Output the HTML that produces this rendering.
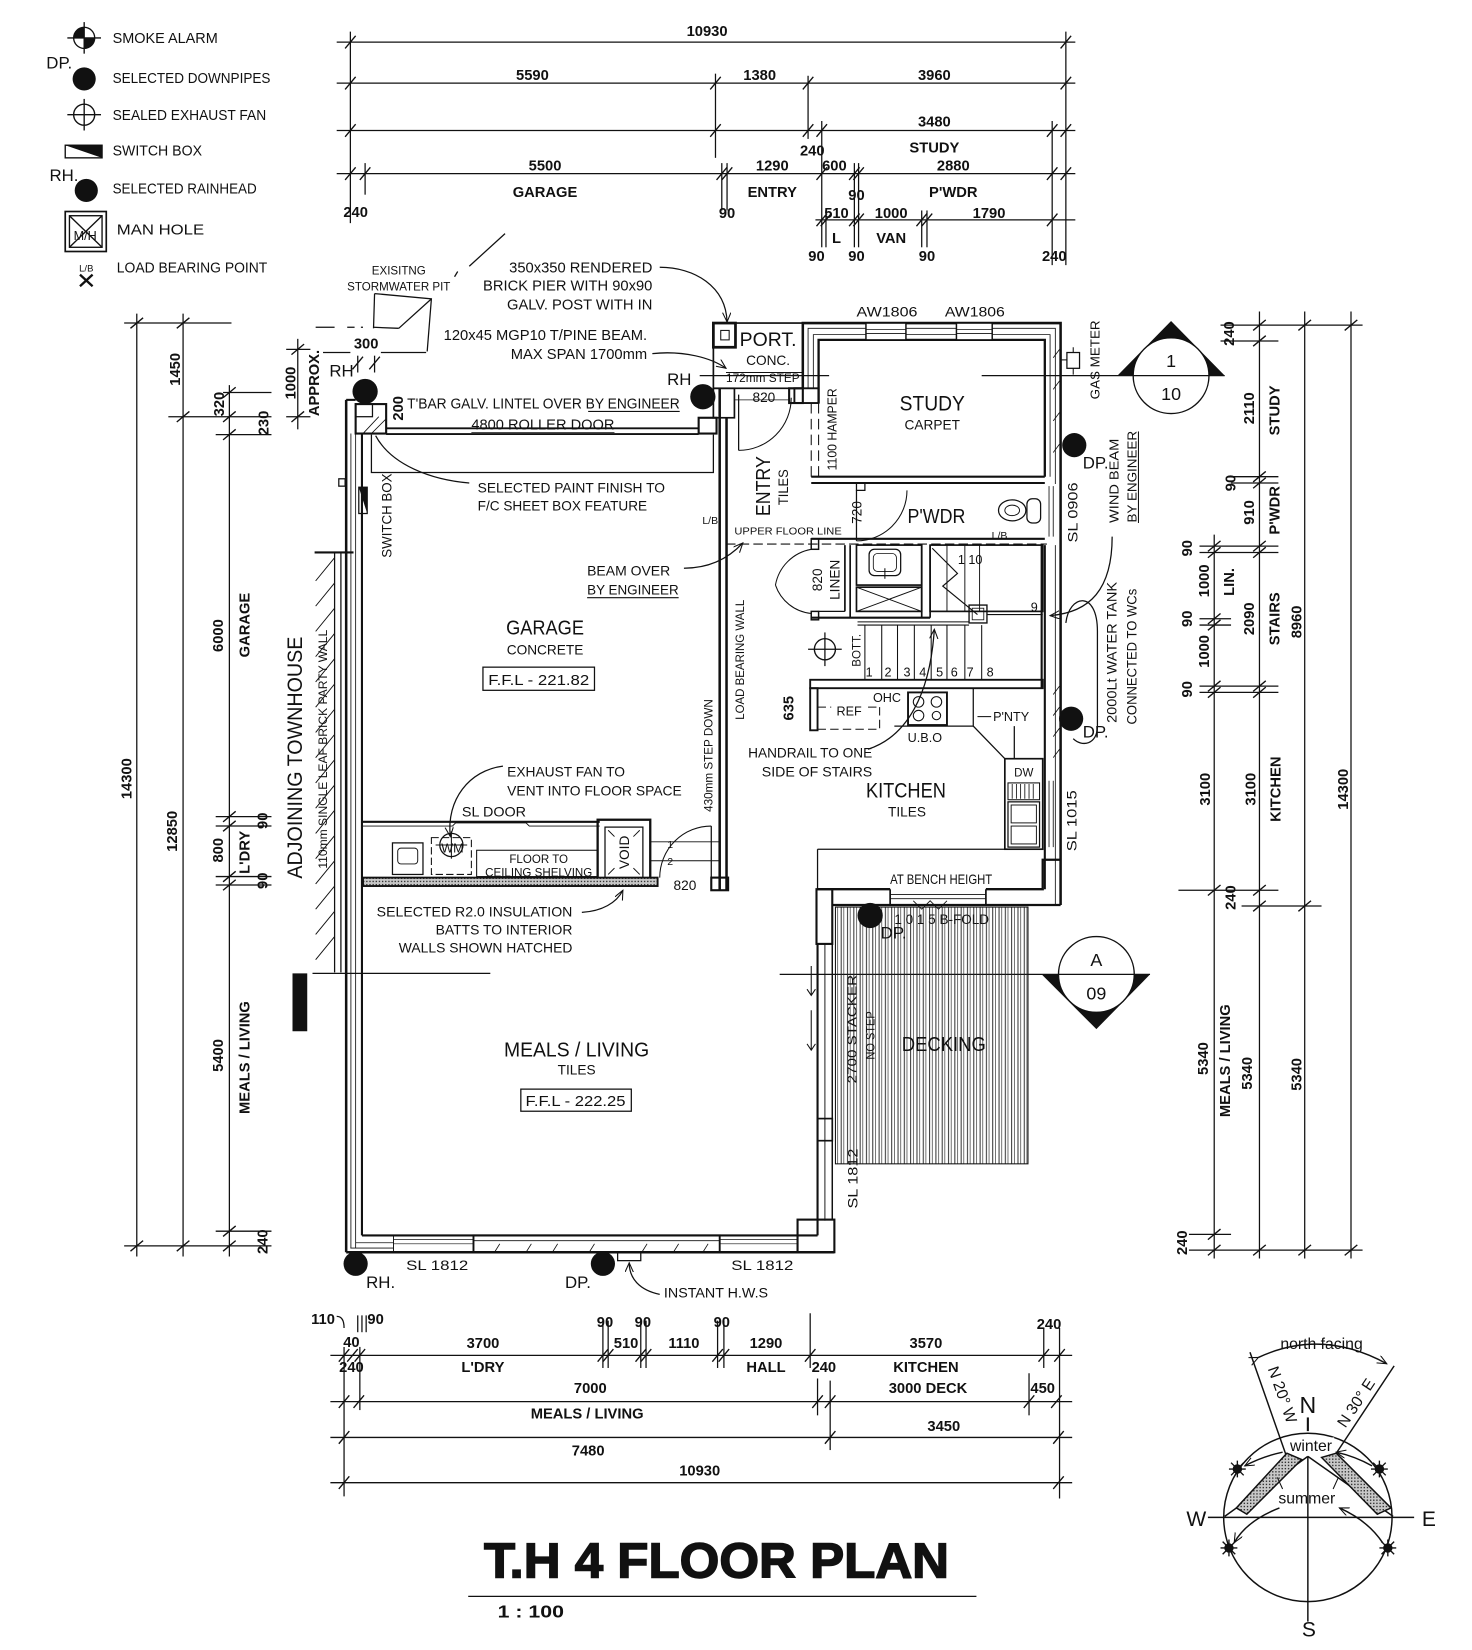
<!DOCTYPE html>
<html><head><meta charset="utf-8"><title>T.H 4 Floor Plan</title>
<style>
html,body{margin:0;padding:0;background:#fff;width:1472px;height:1650px;overflow:hidden}
svg{display:block}
text{font-family:"Liberation Sans",Arial,sans-serif;fill:#111}
.b{font-weight:bold;font-size:14px}
.n{font-size:13px}
.s{font-size:11px}
</style></head><body>
<svg xmlns="http://www.w3.org/2000/svg" width="1472" height="1650" viewBox="0 0 1399 1568" preserveAspectRatio="none">
<defs>
<pattern id="deck" patternUnits="userSpaceOnUse" width="6" height="20">
<line x1="1.5" y1="0" x2="1.5" y2="20" stroke="#222" stroke-width="0.9"/>
<line x1="4" y1="0" x2="4" y2="20" stroke="#222" stroke-width="0.6"/>
</pattern>
<pattern id="stip" patternUnits="userSpaceOnUse" width="3" height="3">
<rect width="3" height="3" fill="#c8c8c8"/><rect width="1.3" height="1.3" fill="#333"/>
</pattern>
<marker id="ar" markerUnits="userSpaceOnUse" markerWidth="12" markerHeight="10" refX="9" refY="4" orient="auto">
<path d="M0,0 L9,4 L0,8" fill="none" stroke="#111" stroke-width="1"/>
</marker>
</defs>
<rect width="1399" height="1568" fill="#fff"/>

<!-- ===== LEGEND ===== -->
<g stroke="#111" stroke-width="1.3" fill="none">
<circle cx="80" cy="36" r="10"/>
<line x1="64" y1="36" x2="96" y2="36"/><line x1="80" y1="21" x2="80" y2="51"/>
<circle cx="80" cy="109" r="10"/>
<line x1="64" y1="109" x2="96" y2="109"/><line x1="80" y1="94" x2="80" y2="124"/>
<rect x="62" y="138" width="35" height="12"/>
<rect x="62" y="201" width="39" height="38" stroke-width="1.6"/>
<rect x="66" y="205" width="31" height="30"/>
<line x1="66" y1="205" x2="97" y2="235"/><line x1="97" y1="205" x2="66" y2="235"/>
<line x1="76" y1="261" x2="88" y2="272" stroke-width="2.2"/><line x1="88" y1="261" x2="76" y2="272" stroke-width="2.2"/>
</g>
<path d="M80,36 L80,26 A10,10 0 0 0 70,36 Z M80,36 L80,46 A10,10 0 0 0 90,36 Z" fill="#111"/>
<path d="M62,138 L97,138 L97,150 Z" fill="#111"/>
<circle cx="80" cy="75" r="11" fill="#111"/>
<circle cx="82" cy="181" r="11" fill="#111"/>
<text x="81" y="228" font-size="12" text-anchor="middle">M/H</text>
<text x="82" y="258" font-size="9" text-anchor="middle">L/B</text>
<text x="44" y="65" font-size="16">DP.</text>
<text x="47" y="172" font-size="16">RH.</text>
<g font-size="14">
<text x="107" y="41" textLength="100" lengthAdjust="spacingAndGlyphs">SMOKE ALARM</text>
<text x="107" y="79" textLength="150" lengthAdjust="spacingAndGlyphs">SELECTED DOWNPIPES</text>
<text x="107" y="114" textLength="146" lengthAdjust="spacingAndGlyphs">SEALED EXHAUST FAN</text>
<text x="107" y="148" textLength="85" lengthAdjust="spacingAndGlyphs">SWITCH BOX</text>
<text x="107" y="184" textLength="137" lengthAdjust="spacingAndGlyphs">SELECTED RAINHEAD</text>
<text x="111" y="223" textLength="83" lengthAdjust="spacingAndGlyphs">MAN HOLE</text>
<text x="111" y="259" textLength="143" lengthAdjust="spacingAndGlyphs">LOAD BEARING POINT</text>
</g>

<!-- ===== TOP DIMENSIONS ===== -->
<g stroke="#111" stroke-width="1.2" fill="none">
<line x1="320" y1="40" x2="1022" y2="40"/>
<line x1="320" y1="79" x2="1022" y2="79"/>
<line x1="320" y1="124" x2="1022" y2="124"/>
<line x1="320" y1="165" x2="1022" y2="165"/>
<line x1="775" y1="209" x2="1022" y2="209"/>
<line x1="333" y1="30" x2="333" y2="212"/>
<line x1="347" y1="155" x2="347" y2="185"/>
<line x1="680" y1="70" x2="680" y2="150"/>
<line x1="686" y1="155" x2="686" y2="200"/><line x1="691" y1="155" x2="691" y2="200"/>
<line x1="768" y1="72" x2="768" y2="132"/>
<line x1="781" y1="115" x2="781" y2="235"/><line x1="785" y1="200" x2="785" y2="235"/>
<line x1="812" y1="155" x2="812" y2="235"/><line x1="816" y1="155" x2="816" y2="235"/>
<line x1="876" y1="200" x2="876" y2="235"/><line x1="881" y1="200" x2="881" y2="235"/>
<line x1="1000" y1="115" x2="1000" y2="252"/>
<line x1="1013" y1="30" x2="1013" y2="252"/>
<path stroke-width="1.3" d="M328,46l10,-12 M1008,46l10,-12
M328,85l10,-12 M675,85l10,-12 M763,85l10,-12 M1008,85l10,-12
M328,130l10,-12 M675,130l10,-12 M763,130l10,-12 M776,130l10,-12 M995,130l10,-12 M1008,130l10,-12
M328,171l10,-12 M342,171l10,-12 M681,171l10,-12 M686,171l10,-12 M776,171l10,-12 M807,171l10,-12 M811,171l10,-12 M995,171l10,-12 M1008,171l10,-12
M776,215l10,-12 M780,215l10,-12 M807,215l10,-12 M811,215l10,-12 M871,215l10,-12 M876,215l10,-12 M995,215l10,-12"/>
</g>
<g class="b" text-anchor="middle">
<text x="672" y="34">10930</text>
<text x="506" y="76">5590</text><text x="722" y="76">1380</text><text x="888" y="76">3960</text>
<text x="888" y="120">3480</text><text x="772" y="148">240</text><text x="888" y="145">STUDY</text>
<text x="518" y="162">5500</text><text x="518" y="187">GARAGE</text><text x="338" y="206">240</text><text x="691" y="207">90</text>
<text x="734" y="162">1290</text><text x="734" y="187">ENTRY</text><text x="793" y="162">600</text><text x="814" y="190">90</text>
<text x="906" y="162">2880</text><text x="906" y="187">P'WDR</text>
<text x="795" y="207">510</text><text x="847" y="207">1000</text><text x="940" y="207">1790</text>
<text x="795" y="231">L</text><text x="847" y="231">VAN</text>
<text x="776" y="248">90</text><text x="814" y="248">90</text><text x="881" y="248">90</text><text x="1002" y="248">240</text>
</g>

<!-- ===== LEFT DIMENSIONS ===== -->
<g stroke="#111" stroke-width="1.2" fill="none">
<line x1="130" y1="298" x2="130" y2="1194"/>
<line x1="174" y1="298" x2="174" y2="1194"/>
<line x1="218" y1="366" x2="218" y2="1194"/>
<line x1="118" y1="307" x2="220" y2="307"/>
<line x1="160" y1="396" x2="258" y2="396"/>
<line x1="212" y1="373" x2="258" y2="373"/>
<line x1="205" y1="413" x2="258" y2="413"/>
<line x1="205" y1="776" x2="258" y2="776"/><line x1="205" y1="785" x2="258" y2="785"/>
<line x1="205" y1="833" x2="258" y2="833"/><line x1="205" y1="841" x2="258" y2="841"/>
<line x1="205" y1="1170" x2="258" y2="1170"/>
<line x1="118" y1="1184" x2="258" y2="1184"/>
<path stroke-width="1.3" d="M124,312l12,-10 M124,1189l12,-10 M168,312l12,-10 M168,401l12,-10 M168,1189l12,-10
M212,378l12,-10 M212,401l12,-10 M212,418l12,-10 M212,781l12,-10 M212,790l12,-10 M212,838l12,-10 M212,846l12,-10 M212,1175l12,-10 M212,1189l12,-10"/>
<line x1="283" y1="322" x2="283" y2="408"/>
<line x1="272" y1="332" x2="295" y2="332"/><line x1="272" y1="396" x2="295" y2="396"/>
<path stroke-width="1.3" d="M277,337l12,-10 M277,401l12,-10"/>
<line x1="307" y1="335" x2="333" y2="335"/><line x1="362" y1="335" x2="405" y2="335"/>
<line x1="340" y1="338" x2="340" y2="354"/><line x1="356" y1="338" x2="356" y2="354"/>
<path stroke-width="1.3" d="M335,351l10,-12 M351,351l10,-12"/>
</g>
<g class="b" text-anchor="middle">
<text transform="translate(125,740) rotate(-90)">14300</text>
<text transform="translate(171,351) rotate(-90)">1450</text>
<text transform="translate(168,790) rotate(-90)">12850</text>
<text transform="translate(213,384) rotate(-90)">320</text>
<text transform="translate(255,402) rotate(-90)">230</text>
<text transform="translate(212,604) rotate(-90)">6000</text>
<text transform="translate(237,594) rotate(-90)">GARAGE</text>
<text transform="translate(212,808) rotate(-90)">800</text>
<text transform="translate(237,810) rotate(-90)">L'DRY</text>
<text transform="translate(254,780) rotate(-90)">90</text>
<text transform="translate(254,837) rotate(-90)">90</text>
<text transform="translate(212,1003) rotate(-90)">5400</text>
<text transform="translate(237,1005) rotate(-90)">MEALS / LIVING</text>
<text transform="translate(254,1180) rotate(-90)">240</text>
<text transform="translate(281,364) rotate(-90)">1000</text>
<text transform="translate(303,364) rotate(-90)">APPROX.</text>
<text x="348" y="331">300</text>
</g>

<!-- ===== RIGHT DIMENSIONS ===== -->
<g stroke="#111" stroke-width="1.2" fill="none">
<line x1="1154" y1="508" x2="1154" y2="1196"/>
<line x1="1197" y1="296" x2="1197" y2="1196"/>
<line x1="1240" y1="296" x2="1240" y2="1196"/>
<line x1="1284" y1="296" x2="1284" y2="1196"/>
<line x1="1160" y1="309" x2="1295" y2="309"/>
<line x1="1160" y1="324" x2="1215" y2="324"/>
<line x1="1170" y1="453" x2="1215" y2="453"/><line x1="1170" y1="459" x2="1215" y2="459"/>
<line x1="1140" y1="519" x2="1215" y2="519"/><line x1="1140" y1="525" x2="1215" y2="525"/>
<line x1="1140" y1="588" x2="1170" y2="588"/><line x1="1140" y1="594" x2="1170" y2="594"/>
<line x1="1140" y1="652" x2="1215" y2="652"/><line x1="1140" y1="658" x2="1215" y2="658"/>
<line x1="1120" y1="846" x2="1215" y2="846"/>
<line x1="1180" y1="861" x2="1256" y2="861"/>
<line x1="1130" y1="1173" x2="1170" y2="1173"/>
<line x1="1130" y1="1188" x2="1295" y2="1188"/>
<path stroke-width="1.3" d="M1148,524l12,-10 M1148,530l12,-10 M1148,593l12,-10 M1148,599l12,-10 M1148,657l12,-10 M1148,663l12,-10 M1148,851l12,-10 M1148,1178l12,-10 M1148,1193l12,-10
M1191,314l12,-10 M1191,329l12,-10 M1191,458l12,-10 M1191,464l12,-10 M1191,524l12,-10 M1191,530l12,-10 M1191,657l12,-10 M1191,663l12,-10 M1191,851l12,-10 M1191,866l12,-10 M1191,1193l12,-10
M1234,314l12,-10 M1234,866l12,-10 M1234,1193l12,-10
M1278,314l12,-10 M1278,1193l12,-10"/>
</g>
<g class="b" text-anchor="middle">
<text transform="translate(1173,317) rotate(-90)">240</text>
<text transform="translate(1192,388) rotate(-90)">2110</text>
<text transform="translate(1216,390) rotate(-90)">STUDY</text>
<text transform="translate(1174,459) rotate(-90)">90</text>
<text transform="translate(1192,487) rotate(-90)">910</text>
<text transform="translate(1216,485) rotate(-90)">P'WDR</text>
<text transform="translate(1133,521) rotate(-90)">90</text>
<text transform="translate(1149,552) rotate(-90)">1000</text>
<text transform="translate(1173,553) rotate(-90)">LIN.</text>
<text transform="translate(1133,588) rotate(-90)">90</text>
<text transform="translate(1149,619) rotate(-90)">1000</text>
<text transform="translate(1192,588) rotate(-90)">2090</text>
<text transform="translate(1216,588) rotate(-90)">STAIRS</text>
<text transform="translate(1237,591) rotate(-90)">8960</text>
<text transform="translate(1133,655) rotate(-90)">90</text>
<text transform="translate(1150,750) rotate(-90)">3100</text>
<text transform="translate(1193,750) rotate(-90)">3100</text>
<text transform="translate(1217,750) rotate(-90)">KITCHEN</text>
<text transform="translate(1281,750) rotate(-90)">14300</text>
<text transform="translate(1174,853) rotate(-90)">240</text>
<text transform="translate(1148,1006) rotate(-90)">5340</text>
<text transform="translate(1169,1008) rotate(-90)">MEALS / LIVING</text>
<text transform="translate(1190,1020) rotate(-90)">5340</text>
<text transform="translate(1237,1021) rotate(-90)">5340</text>
<text transform="translate(1128,1181) rotate(-90)">240</text>
</g>

<!-- ===== BOTTOM DIMENSIONS ===== -->
<g stroke="#111" stroke-width="1.2" fill="none">
<line x1="314" y1="1288" x2="1019" y2="1288"/>
<line x1="314" y1="1332" x2="1019" y2="1332"/>
<line x1="314" y1="1366" x2="1019" y2="1366"/>
<line x1="314" y1="1409" x2="1019" y2="1409"/>
<line x1="327" y1="1280" x2="327" y2="1422"/>
<line x1="342" y1="1280" x2="342" y2="1340"/>
<line x1="340" y1="1250" x2="340" y2="1266"/><line x1="344" y1="1250" x2="344" y2="1266"/><line x1="348" y1="1250" x2="348" y2="1266"/>
<path d="M320,1251 C325,1251 327,1255 327,1262"/>
<line x1="573" y1="1255" x2="573" y2="1300"/><line x1="578" y1="1255" x2="578" y2="1300"/>
<line x1="609" y1="1255" x2="609" y2="1300"/><line x1="614" y1="1255" x2="614" y2="1300"/>
<line x1="682" y1="1255" x2="682" y2="1300"/><line x1="688" y1="1255" x2="688" y2="1300"/>
<line x1="770" y1="1248" x2="770" y2="1300"/>
<line x1="777" y1="1310" x2="777" y2="1345"/>
<line x1="789" y1="1312" x2="789" y2="1378"/>
<line x1="978" y1="1305" x2="978" y2="1345"/>
<line x1="992" y1="1262" x2="992" y2="1300"/>
<line x1="1007" y1="1262" x2="1007" y2="1424"/>
<path stroke-width="1.3" d="M322,1294l10,-12 M330,1294l10,-12 M337,1294l10,-12 M568,1294l10,-12 M573,1294l10,-12 M604,1294l10,-12 M609,1294l10,-12 M677,1294l10,-12 M683,1294l10,-12 M765,1294l10,-12 M987,1294l10,-12 M1002,1294l10,-12
M322,1338l10,-12 M336,1338l10,-12 M772,1338l10,-12 M784,1338l10,-12 M973,1338l10,-12 M999,1338l10,-12
M322,1372l10,-12 M784,1372l10,-12 M1001,1372l10,-12
M322,1415l10,-12 M1001,1415l10,-12"/>
</g>
<g class="b" text-anchor="middle">
<text x="307" y="1258">110</text><text x="357" y="1258">90</text><text x="334" y="1280">40</text>
<text x="459" y="1281">3700</text><text x="575" y="1261">90</text><text x="611" y="1261">90</text>
<text x="595" y="1281">510</text><text x="650" y="1281">1110</text><text x="686" y="1261">90</text>
<text x="728" y="1281">1290</text><text x="880" y="1281">3570</text><text x="997" y="1263">240</text>
<text x="334" y="1304">240</text><text x="459" y="1304">L'DRY</text><text x="728" y="1304">HALL</text>
<text x="783" y="1304">240</text><text x="880" y="1304">KITCHEN</text>
<text x="561" y="1324">7000</text><text x="882" y="1324">3000 DECK</text><text x="991" y="1324">450</text>
<text x="558" y="1348">MEALS / LIVING</text>
<text x="897" y="1360">3450</text><text x="559" y="1383">7480</text>
<text x="665" y="1402">10930</text>
</g>

<!-- ===== STORMWATER / TOP ANNOTATIONS ===== -->
<g stroke="#111" stroke-width="1.2" fill="none">
<path d="M356,279 L410,284 L406,334"/>
<path d="M356,279 L355,312"/>
<path d="M379,312 L410,284"/>
<path d="M300,311 L318,311 M330,311 L337,311 M343,311 L345,311 M355,311 L379,312"/>
<line x1="446" y1="253" x2="480" y2="222"/>
<line x1="432" y1="263" x2="435" y2="258"/>
<path d="M627,254 C660,254 690,272 691,306" marker-end="url(#ar)"/>
<path d="M620,336 C650,333 676,340 690,350" marker-end="url(#ar)"/>
<path d="M446,459 C410,456 372,442 357,414"/>
<path d="M650,540 C675,540 693,530 706,516" marker-end="url(#ar)"/>
<path d="M478,728 C446,732 424,760 428,795" marker-end="url(#ar)"/>
<path d="M553,867 C572,866 586,858 592,846" marker-end="url(#ar)"/>
<path d="M825,712 C862,700 884,660 888,598" marker-end="url(#ar)"/>
<path d="M627,1230 C608,1226 598,1215 598,1200" marker-end="url(#ar)"/>
<path d="M1057,510 C1057,560 1036,582 998,585" marker-end="url(#ar)"/>
<path d="M1013,592 C1016,565 1043,560 1043,600 L1043,690 C1043,708 1028,710 1020,702"/>
</g>
<g font-size="11" text-anchor="middle">
<text x="379" y="261">EXISITNG</text>
<text x="379" y="276">STORMWATER PIT</text>
</g>
<g font-size="14" text-anchor="end">
<text x="620" y="259">350x350 RENDERED</text>
<text x="620" y="276">BRICK PIER WITH 90x90</text>
<text x="620" y="294">GALV. POST WITH IN</text>
<text x="615" y="323">120x45 MGP10 T/PINE BEAM.</text>
<text x="615" y="341">MAX SPAN 1700mm</text>
</g>
<text x="387" y="388" font-size="14" textLength="259" lengthAdjust="spacingAndGlyphs">T'BAR GALV. LINTEL OVER BY ENGINEER</text>
<line x1="559" y1="391" x2="646" y2="391" stroke="#111" stroke-width="1"/>
<text x="448" y="408" font-size="14" textLength="136" lengthAdjust="spacingAndGlyphs">4800 ROLLER DOOR</text>
<line x1="448" y1="411" x2="584" y2="411" stroke="#111" stroke-width="0.8"/>
<text class="b" transform="translate(383,388) rotate(-90)" text-anchor="middle">200</text>
<g font-size="13">
<text x="454" y="468" textLength="178" lengthAdjust="spacingAndGlyphs">SELECTED PAINT FINISH TO</text>
<text x="454" y="485" textLength="161" lengthAdjust="spacingAndGlyphs">F/C SHEET BOX FEATURE</text>
<text x="558" y="547" textLength="79" lengthAdjust="spacingAndGlyphs">BEAM OVER</text>
<text x="558" y="565" textLength="87" lengthAdjust="spacingAndGlyphs">BY ENGINEER</text>
<text x="482" y="738" textLength="112" lengthAdjust="spacingAndGlyphs">EXHAUST FAN TO</text>
<text x="482" y="756" textLength="166" lengthAdjust="spacingAndGlyphs">VENT INTO FLOOR SPACE</text>
<text x="439" y="776" textLength="61" lengthAdjust="spacingAndGlyphs">SL DOOR</text>
<text x="358" y="871" textLength="186" lengthAdjust="spacingAndGlyphs">SELECTED R2.0 INSULATION</text>
<text x="414" y="888" textLength="130" lengthAdjust="spacingAndGlyphs">BATTS TO INTERIOR</text>
<text x="379" y="905" textLength="165" lengthAdjust="spacingAndGlyphs">WALLS SHOWN HATCHED</text>
<text x="711" y="720" textLength="118" lengthAdjust="spacingAndGlyphs">HANDRAIL TO ONE</text>
<text x="724" y="738" textLength="105" lengthAdjust="spacingAndGlyphs">SIDE OF STAIRS</text>
<text x="631" y="1233" textLength="99" lengthAdjust="spacingAndGlyphs">INSTANT H.W.S</text>
<text x="386" y="1207" textLength="59" lengthAdjust="spacingAndGlyphs">SL 1812</text>
<text x="695" y="1207" textLength="59" lengthAdjust="spacingAndGlyphs">SL 1812</text>
<text x="814" y="301" textLength="58" lengthAdjust="spacingAndGlyphs">AW1806</text>
<text x="898" y="301" textLength="57" lengthAdjust="spacingAndGlyphs">AW1806</text>
<text x="846" y="840" textLength="97" lengthAdjust="spacingAndGlyphs">AT BENCH HEIGHT</text>
<text x="850" y="878" textLength="90" lengthAdjust="spacingAndGlyphs">1 0 1 5  B-FOLD</text>
</g>
<line x1="558" y1="568" x2="645" y2="568" stroke="#111" stroke-width="1"/>

<!-- ===== PARTY WALL / LEFT ===== -->
<g stroke="#111" fill="none">
<line x1="318" y1="525" x2="318" y2="924" stroke-width="1.2"/>
<line x1="324" y1="525" x2="324" y2="924" stroke-width="1.2"/>
<line x1="299" y1="525" x2="336" y2="525" stroke-width="2"/>
<path stroke-width="0.9" d="M300,552l18,-22 M300,576l18,-22 M300,600l18,-22 M300,624l18,-22 M300,648l18,-22 M300,672l18,-22 M300,696l18,-22 M300,720l18,-22 M300,744l18,-22 M300,768l18,-22 M300,792l18,-22 M300,816l18,-22 M300,840l18,-22 M300,864l18,-22 M300,888l18,-22 M300,912l18,-22"/>
<rect x="322" y="455" width="6" height="7" stroke-width="1.2"/>
<line x1="297" y1="925" x2="466" y2="925" stroke-width="1.3"/>
</g>
<rect x="278" y="925" width="14" height="55" fill="#111"/>
<text transform="translate(287,720) rotate(-90)" text-anchor="middle" font-size="20" textLength="230" lengthAdjust="spacingAndGlyphs">ADJOINING TOWNHOUSE</text>
<text transform="translate(311,712) rotate(-90)" text-anchor="middle" font-size="11" textLength="227" lengthAdjust="spacingAndGlyphs">110mm SINGLE LEAF BRICK PARTY WALL</text>

<!-- ===== WALLS ===== -->
<g stroke="#111" fill="none">
<line x1="329" y1="380" x2="329" y2="1190" stroke-width="2.4"/>
<line x1="333.5" y1="412" x2="333.5" y2="1186" stroke-width="0.8"/>
<line x1="338" y1="412" x2="338" y2="1186" stroke-width="0.8"/>
<line x1="344" y1="412" x2="344" y2="1174" stroke-width="2"/>
<rect x="338" y="384" width="29" height="28" stroke-width="2"/>
<rect x="338" y="384" width="16" height="12" stroke-width="1.2"/>
<path d="M345,412 L360,396 M353,412 L367,398" stroke-width="0.8"/>
<line x1="329" y1="380" x2="338" y2="380" stroke-width="2"/>
<line x1="367" y1="407" x2="664" y2="407" stroke-width="1.8"/>
<line x1="367" y1="412.5" x2="664" y2="412.5" stroke-width="1.8"/>
<rect x="664" y="397" width="17" height="15" stroke-width="2"/>
<rect x="678" y="369" width="20" height="28" stroke-width="1.6"/>
<path d="M353,413 L353,449 L678,449 L678,413" stroke-width="1.2"/>
<rect x="341" y="463" width="8" height="25" stroke-width="1.2"/>
<line x1="684" y1="369" x2="684" y2="846" stroke-width="2.4"/>
<line x1="690.5" y1="397" x2="690.5" y2="846" stroke-width="2.4"/>
<rect x="676" y="834" width="16" height="12" stroke-width="2"/>
<line x1="345" y1="781" x2="570" y2="781" stroke-width="2"/>
<path d="M345,785 L430,785 L433,782 L500,782 L503,785 L570,785" stroke-width="0.9"/>
<rect x="568" y="779" width="50" height="62" stroke-width="2.2"/>
<rect x="575" y="786" width="36" height="48" stroke-width="1.2"/>
<path d="M578,789 L584,795 M608,789 L602,795 M578,831 L584,825 M608,831 L602,825" stroke-width="0.9"/>
<rect x="345" y="834" width="280" height="8" fill="url(#stip)" stroke-width="1.8"/>
<line x1="676" y1="785" x2="676" y2="841" stroke-width="1.2"/>
<path d="M676,785 A49,49 0 0 0 627,834" stroke-width="1"/>
<line x1="618" y1="800" x2="683" y2="800" stroke-width="0.9"/>
<line x1="618" y1="818" x2="683" y2="818" stroke-width="0.9"/>
<rect x="373" y="801" width="29" height="30" stroke-width="1.2"/>
<rect x="378" y="806" width="19" height="15" rx="3" stroke-width="0.9"/>
<rect x="410" y="796" width="38" height="35" stroke-width="1" stroke-dasharray="7,3"/>
<circle cx="429" cy="803" r="11" stroke-width="1.2"/>
<line x1="414" y1="803" x2="444" y2="803" stroke-width="1"/><line x1="429" y1="790" x2="429" y2="816" stroke-width="1"/>
<rect x="453" y="808" width="115" height="25" stroke-width="1"/>
<rect x="678" y="307" width="85" height="62" stroke-width="1.6"/>
<rect x="678" y="307" width="21" height="23" stroke-width="2.6"/>
<rect x="685" y="314" width="8" height="9" stroke-width="1"/>
<line x1="690" y1="354" x2="763" y2="354" stroke-width="0.9"/>
<rect x="750" y="369" width="13" height="14" stroke-width="2"/>
<line x1="702" y1="375" x2="702" y2="428" stroke-width="1.2"/>
<path d="M702,428 A50,50 0 0 0 752,378" stroke-width="1"/>
<line x1="698" y1="380" x2="750" y2="380" stroke-width="0.8"/>
<path d="M763,369 L763,307 L1008,307 L1008,860" stroke-width="2.4"/>
<path d="M778,383 L778,323 L993,323 L993,453" stroke-width="2.2"/>
<path d="M768,369 L768,312 L1003,312 L1003,460 M773,369 L773,318 L998,318 L998,453" stroke-width="0.8"/>
<rect x="823" y="307" width="38" height="16" fill="#fff" stroke-width="1.4"/>
<rect x="909" y="307" width="34" height="16" fill="#fff" stroke-width="1.4"/>
<line x1="823" y1="313" x2="861" y2="313" stroke-width="0.8"/><line x1="823" y1="317" x2="861" y2="317" stroke-width="0.8"/>
<line x1="909" y1="313" x2="943" y2="313" stroke-width="0.8"/><line x1="909" y1="317" x2="943" y2="317" stroke-width="0.8"/>
<rect x="755" y="369" width="23" height="14" stroke-width="1.8"/>
<line x1="771" y1="383" x2="771" y2="453" stroke-width="1" stroke-dasharray="10,5"/>
<line x1="778" y1="383" x2="778" y2="453" stroke-width="1" stroke-dasharray="10,5"/>
<line x1="771" y1="453" x2="993" y2="453" stroke-width="2"/>
<line x1="771" y1="459" x2="993" y2="459" stroke-width="2"/>
<rect x="1014" y="335" width="12" height="15" stroke-width="1.2"/>
<line x1="1008" y1="342" x2="1014" y2="342" stroke-width="1"/>
<line x1="1020" y1="330" x2="1020" y2="335" stroke-width="1"/><line x1="1020" y1="350" x2="1020" y2="356" stroke-width="1"/>
<line x1="993" y1="518" x2="993" y2="845" stroke-width="2"/>
<line x1="1003" y1="518" x2="1003" y2="860" stroke-width="0.8"/>
<path d="M997,462 L997,510 M1001,462 L1001,510" stroke-width="0.8"/>
<path d="M997,742 L997,805 M1001,742 L1001,805" stroke-width="0.8"/>
<path d="M1001,660l6,-8 M1001,680l6,-8 M1001,700l6,-8 M1001,720l6,-8 M1001,340l6,-8 M1001,370l6,-8 M1001,400l6,-8 M1001,430l6,-8" stroke-width="0.8"/>
<rect x="814" y="459" width="8" height="7" stroke-width="1.2"/>
<line x1="814" y1="466" x2="814" y2="514" stroke-width="1.2"/>
<path d="M862,466 A48,48 0 0 1 814,514" stroke-width="1"/>
<ellipse cx="962" cy="485" rx="13" ry="10" stroke-width="1.2"/>
<ellipse cx="962" cy="485" rx="7" ry="5" stroke-width="0.9"/>
<rect x="976" y="474" width="13" height="23" rx="5" stroke-width="1.2"/>
<line x1="771" y1="512" x2="993" y2="512" stroke-width="2"/>
<line x1="690" y1="517" x2="995" y2="517" stroke-width="1.1" stroke-dasharray="9,4"/>
<rect x="771" y="512" width="7" height="10" stroke-width="1.4"/>
<rect x="771" y="581" width="7" height="8" stroke-width="1.4"/>
<path d="M803,518 L803,581 M808,518 L808,587" stroke-width="1.6"/>
<line x1="771" y1="587" x2="884" y2="587" stroke-width="2"/>
<line x1="778" y1="581" x2="803" y2="581" stroke-width="1.2"/>
<path d="M771,522 A42,42 0 0 0 737,556 M771,583 A40,40 0 0 1 737,556" stroke-width="1"/>
<rect x="814" y="518" width="62" height="38" stroke-width="1.6"/>
<rect x="826" y="522" width="30" height="25" rx="5" stroke-width="1.2"/>
<rect x="830" y="526" width="22" height="17" rx="4" stroke-width="0.8"/>
<line x1="841" y1="540" x2="841" y2="550" stroke-width="1"/>
<rect x="814" y="558" width="62" height="23" stroke-width="1.6"/>
<path d="M814,558 L876,581 M876,558 L814,581" stroke-width="0.9"/>
<path d="M876,518 L876,587 M884,518 L884,587" stroke-width="1.6"/>
<rect x="884" y="518" width="107" height="63" stroke-width="1.6"/>
<path d="M900,518 L900,581 M917,518 L917,581 M931,518 L931,581" stroke-width="0.9"/>
<path d="M886,521 L910,545 L896,557 L929,584" stroke-width="1.1"/>
<rect x="921" y="575" width="17" height="17" stroke-width="1.3"/>
<rect x="924" y="578" width="11" height="11" stroke-width="0.8"/>
<line x1="938" y1="584" x2="991" y2="584" stroke-width="1"/>
<line x1="990" y1="518" x2="990" y2="654" stroke-width="2"/>
<line x1="815" y1="591" x2="921" y2="591" stroke-width="1"/>
<line x1="815" y1="594" x2="921" y2="594" stroke-width="1"/>
<path d="M822,594 L822,646 M838,594 L838,646 M853,594 L853,646 M869,594 L869,646 M885,594 L885,646 M900,594 L900,646 M917,594 L917,646 M933,594 L933,646" stroke-width="1"/>
<rect x="770" y="646" width="221" height="8" stroke-width="1.8"/>
<circle cx="784" cy="617" r="10" stroke-width="1.3"/>
<line x1="768" y1="617" x2="800" y2="617" stroke-width="1.2"/><line x1="784" y1="601" x2="784" y2="633" stroke-width="1.2"/>
<rect x="770" y="654" width="7" height="40" stroke-width="1.8"/>
<path d="M777,693 L836,693 L836,672 M777,672 L790,672 M825,672 L836,672" stroke-width="1" stroke-dasharray="8,4"/>
<rect x="863" y="658" width="37" height="31" stroke-width="1.8"/>
<circle cx="873" cy="667" r="5" stroke-width="1"/><circle cx="890" cy="667" r="5" stroke-width="1"/>
<circle cx="873" cy="680" r="5" stroke-width="1"/><circle cx="890" cy="680" r="4" stroke-width="1"/>
<line x1="850" y1="690" x2="925" y2="690" stroke-width="1.2"/>
<path d="M925,654 L925,690 L955,721 M964,690 L964,721" stroke-width="1.2"/>
<line x1="929" y1="681" x2="942" y2="681" stroke-width="1"/>
<rect x="955" y="721" width="36" height="86" stroke-width="1.6"/>
<rect x="958" y="744" width="30" height="16" stroke-width="1"/>
<path d="M962,745 L962,759 M966,745 L966,759 M970,745 L970,759 M974,745 L974,759 M978,745 L978,759 M982,745 L982,759" stroke-width="0.8"/>
<rect x="958" y="762" width="30" height="43" stroke-width="1.2"/>
<rect x="961" y="765" width="24" height="17" stroke-width="0.9"/>
<rect x="961" y="785" width="24" height="17" stroke-width="0.9"/>
<line x1="777" y1="807" x2="955" y2="807" stroke-width="1.2"/>
<line x1="777" y1="807" x2="777" y2="845" stroke-width="1.2"/>
<path d="M777,845 L846,845 M937,845 L991,845 L991,817 L1008,817" stroke-width="2.2"/>
<path d="M791,860 L1008,860" stroke-width="2.2"/>
<path d="M846,845 L846,860 M937,845 L937,860" stroke-width="1.6"/>
<path d="M846,850 L937,850 M846,854 L937,854" stroke-width="0.8"/>
<path d="M868,856 L876,864 L884,856 L892,864 L900,856" stroke-width="0.8"/>
<rect x="776" y="845" width="15" height="52" stroke-width="2"/>
<line x1="777" y1="897" x2="777" y2="1174" stroke-width="2"/>
<line x1="784" y1="897" x2="784" y2="1160" stroke-width="0.9"/>
<line x1="791" y1="860" x2="791" y2="1159" stroke-width="1.4"/>
<rect x="777" y="1063" width="14" height="21" stroke-width="1.6"/>
<path d="M771,918 L771,946 M767,940 L771,946 L775,940 M771,960 L771,998 M767,992 L771,998 L775,992" stroke-width="1"/>
<line x1="329" y1="1190" x2="793" y2="1190" stroke-width="2.4"/>
<line x1="344" y1="1174" x2="777" y2="1174" stroke-width="2"/>
<path d="M333,1186 L374,1186 M338,1181 L374,1181" stroke-width="0.8"/>
<rect x="374" y="1174" width="76" height="16" stroke-width="0.9"/>
<path d="M374,1178 L450,1178 M374,1182 L450,1182" stroke-width="0.7"/>
<rect x="450" y="1174" width="234" height="16" stroke-width="1.8"/>
<line x1="450" y1="1179" x2="684" y2="1179" stroke-width="0.8"/>
<path d="M470,1190l5,-8 M500,1190l5,-8 M525,1190l5,-8 M560,1190l5,-8 M610,1190l5,-8 M640,1190l5,-8 M668,1190l5,-8" stroke-width="0.8"/>
<rect x="684" y="1174" width="74" height="16" stroke-width="0.9"/>
<path d="M684,1178 L758,1178 M684,1182 L758,1182" stroke-width="0.7"/>
<rect x="758" y="1159" width="35" height="31" stroke-width="2"/>
<line x1="777" y1="1159" x2="777" y2="1174" stroke-width="0.9"/>
<rect x="587" y="1190" width="22" height="8" stroke-width="1.2"/>
<line x1="665" y1="357" x2="788" y2="357" stroke-width="1.2"/>
<line x1="933" y1="357" x2="1164" y2="357" stroke-width="1.2"/>
<line x1="741" y1="926" x2="1093" y2="926" stroke-width="1.2"/>
</g>

<rect x="794" y="862" width="183" height="244" fill="url(#deck)" stroke="#111" stroke-width="1"/>

<g fill="#111">
<circle cx="347" cy="372" r="12"/>
<circle cx="668" cy="377" r="12"/>
<circle cx="1021" cy="423" r="11.5"/>
<circle cx="1018" cy="683" r="11.5"/>
<circle cx="827" cy="870" r="12"/>
<circle cx="338" cy="1201" r="11.5"/>
<circle cx="573" cy="1201" r="11.5"/>
</g>
<path d="M341,463 L349,463 L349,488 Z" fill="#111"/>
<g font-size="16">
<text x="313" y="358">RH</text>
<text x="634" y="366">RH</text>
<text x="1029" y="445">DP.</text>
<text x="1029" y="701">DP.</text>
<text x="837" y="892">DP.</text>
<text x="348" y="1224">RH.</text>
<text x="537" y="1224">DP.</text>
</g>

<polygon points="1113,305 1062,357 1164,357" fill="#111"/>
<circle cx="1113" cy="357" r="36" fill="#fff" stroke="#111" stroke-width="1.3"/>
<line x1="1077" y1="357" x2="1149" y2="357" stroke="#111" stroke-width="1.2"/>
<text x="1113" y="349" font-size="17" text-anchor="middle">1</text>
<text x="1113" y="380" font-size="17" text-anchor="middle">10</text>
<polygon points="990,926 1093,926 1042,978" fill="#111"/>
<circle cx="1042" cy="926" r="36" fill="#fff" stroke="#111" stroke-width="1.3"/>
<line x1="1006" y1="926" x2="1078" y2="926" stroke="#111" stroke-width="1.2"/>
<text x="1042" y="918" font-size="17" text-anchor="middle">A</text>
<text x="1042" y="950" font-size="17" text-anchor="middle">09</text>

<g text-anchor="middle">
<text x="518" y="603" font-size="19" textLength="74" lengthAdjust="spacingAndGlyphs">GARAGE</text>
<text x="518" y="622" font-size="13">CONCRETE</text>
<rect x="459" y="634" width="106" height="22" fill="none" stroke="#111" stroke-width="1.2"/>
<text x="512" y="651" font-size="14" textLength="96" lengthAdjust="spacingAndGlyphs">F.F.L - 221.82</text>
<text x="548" y="1004" font-size="19" textLength="138" lengthAdjust="spacingAndGlyphs">MEALS / LIVING</text>
<text x="548" y="1021" font-size="13">TILES</text>
<rect x="495" y="1035" width="105" height="21" fill="none" stroke="#111" stroke-width="1.2"/>
<text x="547" y="1051" font-size="14" textLength="95" lengthAdjust="spacingAndGlyphs">F.F.L - 222.25</text>
<text x="886" y="390" font-size="20" textLength="62" lengthAdjust="spacingAndGlyphs">STUDY</text>
<text x="886" y="408" font-size="13">CARPET</text>
<text x="890" y="497" font-size="19" textLength="55" lengthAdjust="spacingAndGlyphs">P'WDR</text>
<text x="861" y="758" font-size="20" textLength="76" lengthAdjust="spacingAndGlyphs">KITCHEN</text>
<text x="862" y="776" font-size="13">TILES</text>
<text x="897" y="999" font-size="19" textLength="80" lengthAdjust="spacingAndGlyphs">DECKING</text>
<text x="730" y="347" font-size="13">CONC.</text>
<text x="725" y="363" font-size="11" textLength="70" lengthAdjust="spacingAndGlyphs">172mm STEP</text>
<text x="726" y="382" font-size="13">820</text>
<text x="651" y="846" font-size="13">820</text>
<text x="807" y="680" font-size="12">REF</text>
<text x="843" y="667" font-size="12">OHC</text>
<text x="879" y="705" font-size="12">U.B.O</text>
<text x="961" y="685" font-size="12">P'NTY</text>
<text x="973" y="738" font-size="11">DW</text>
<text x="430" y="810" font-size="12">WM</text>
<text x="512" y="820" font-size="11">FLOOR TO</text>
<text x="512" y="833" font-size="11">CEILING SHELVING</text>
<text x="922" y="536" font-size="12">1 10</text>
<text x="983" y="581" font-size="12">9</text>
<text x="675" y="498" font-size="10">L/B</text>
<text x="950" y="512" font-size="10">L/B</text>
<text x="637" y="806" font-size="10">1</text>
<text x="637" y="822" font-size="10">2</text>
</g>
<text x="703" y="329" font-size="18" textLength="54" lengthAdjust="spacingAndGlyphs">PORT.</text>
<text x="698" y="508" font-size="10" textLength="102" lengthAdjust="spacingAndGlyphs">UPPER FLOOR LINE</text>
<g font-size="12" text-anchor="middle">
<text x="826" y="643">1</text><text x="844" y="643">2</text><text x="862" y="643">3</text><text x="877" y="643">4</text>
<text x="893" y="643">5</text><text x="907" y="643">6</text><text x="922" y="643">7</text><text x="941" y="643">8</text>
</g>

<g text-anchor="middle">
<text transform="translate(372,490) rotate(-90)" font-size="13" textLength="80" lengthAdjust="spacingAndGlyphs">SWITCH BOX</text>
<text transform="translate(732,462) rotate(-90)" font-size="19" textLength="57" lengthAdjust="spacingAndGlyphs">ENTRY</text>
<text transform="translate(749,463) rotate(-90)" font-size="13" textLength="34" lengthAdjust="spacingAndGlyphs">TILES</text>
<text transform="translate(795,408) rotate(-90)" font-size="12" textLength="78" lengthAdjust="spacingAndGlyphs">1100 HAMPER</text>
<text transform="translate(819,487) rotate(-90)" font-size="13">720</text>
<text transform="translate(1024,487) rotate(-90)" font-size="13" textLength="57" lengthAdjust="spacingAndGlyphs">SL 0906</text>
<text transform="translate(1063,457) rotate(-90)" font-size="12" textLength="80" lengthAdjust="spacingAndGlyphs">WIND BEAM</text>
<text transform="translate(1080,453) rotate(-90)" font-size="12" textLength="87" lengthAdjust="spacingAndGlyphs">BY ENGINEER</text>
<text transform="translate(1045,342) rotate(-90)" font-size="12" textLength="75" lengthAdjust="spacingAndGlyphs">GAS METER</text>
<text transform="translate(781,551) rotate(-90)" font-size="13">820</text>
<text transform="translate(798,551) rotate(-90)" font-size="13">LINEN</text>
<text transform="translate(818,618) rotate(-90)" font-size="11">BOTT.</text>
<text class="b" transform="translate(754,673) rotate(-90)">635</text>
<text transform="translate(707,627) rotate(-90)" font-size="11" textLength="114" lengthAdjust="spacingAndGlyphs">LOAD BEARING WALL</text>
<text transform="translate(677,718) rotate(-90)" font-size="11" textLength="107" lengthAdjust="spacingAndGlyphs">430mm STEP DOWN</text>
<text transform="translate(598,810) rotate(-90)" font-size="13">VOID</text>
<text transform="translate(1061,620) rotate(-90)" font-size="13" textLength="134" lengthAdjust="spacingAndGlyphs">2000Lt WATER TANK</text>
<text transform="translate(1080,624) rotate(-90)" font-size="13" textLength="129" lengthAdjust="spacingAndGlyphs">CONNECTED TO WCs</text>
<text transform="translate(1023,780) rotate(-90)" font-size="13" textLength="58" lengthAdjust="spacingAndGlyphs">SL 1015</text>
<text transform="translate(814,978) rotate(-90)" font-size="12" textLength="103" lengthAdjust="spacingAndGlyphs">2700 STACKER</text>
<text transform="translate(831,984) rotate(-90)" font-size="11" textLength="46" lengthAdjust="spacingAndGlyphs">NO STEP</text>
<text transform="translate(815,1120) rotate(-90)" font-size="13" textLength="57" lengthAdjust="spacingAndGlyphs">SL 1812</text>
</g>
<line x1="1082" y1="410" x2="1082" y2="497" stroke="#111" stroke-width="1"/>

<!-- ===== COMPASS ===== -->
<g stroke="#111" fill="none" stroke-width="1.4">
<circle cx="1243" cy="1442" r="80"/>
<line x1="1148" y1="1442" x2="1344" y2="1442"/>
<line x1="1243" y1="1384" x2="1243" y2="1541"/>
<line x1="1188" y1="1285" x2="1222" y2="1382"/>
<line x1="1325" y1="1298" x2="1270" y2="1381"/>
<path d="M1196,1290 Q1256,1262 1318,1296" marker-end="url(#ar)" marker-start="url(#ar)"/>
<line x1="1243" y1="1384" x2="1164" y2="1441"/>
<line x1="1243" y1="1384" x2="1324" y2="1441"/>
<polygon points="1223,1381 1237,1387 1185,1439 1175,1433" fill="url(#stip)"/>
<polygon points="1256,1385 1270,1381 1322,1433 1309,1439" fill="url(#stip)"/>
<path d="M1219,1380 Q1200,1384 1183,1393" marker-end="url(#ar)"/>
<path d="M1304,1393 Q1288,1384 1270,1380" marker-end="url(#ar)"/>
<path d="M1216,1433 Q1185,1445 1173,1466" marker-end="url(#ar)"/>
<path d="M1314,1466 Q1300,1445 1273,1433" marker-end="url(#ar)"/>
<path d="M1214,1404 L1219,1415 M1272,1404 L1267,1415" stroke-width="1"/>
<line x1="1243" y1="1347" x2="1243" y2="1360" stroke-width="2"/>
</g>
<g fill="#111">
<circle cx="1176" cy="1396" r="4.5"/><circle cx="1311" cy="1396" r="4.5"/>
<circle cx="1168" cy="1471" r="4.5"/><circle cx="1319" cy="1471" r="4.5"/>
</g>
<g stroke="#111" stroke-width="1.3">
<path d="M1168,1396h16 M1176,1388v16 M1170,1390l12,12 M1182,1390l-12,12"/>
<path d="M1303,1396h16 M1311,1388v16 M1305,1390l12,12 M1317,1390l-12,12"/>
<path d="M1160,1471h16 M1168,1463v16 M1162,1465l12,12 M1174,1465l-12,12"/>
<path d="M1311,1471h16 M1319,1463v16 M1313,1465l12,12 M1325,1465l-12,12"/>
</g>
<g text-anchor="middle">
<text x="1256" y="1282" font-size="15">north facing</text>
<text x="1243" y="1343" font-size="22">N</text>
<rect x="1222" y="1366" width="46" height="14" fill="#fff"/>
<text x="1246" y="1379" font-size="15">winter</text>
<text x="1242" y="1429" font-size="15">summer</text>
<text x="1137" y="1450" font-size="20">W</text>
<text x="1358" y="1450" font-size="20">E</text>
<text x="1244" y="1555" font-size="20">S</text>
<text transform="translate(1214,1327) rotate(70.7)" font-size="15">N 20° W</text>
<text transform="translate(1293,1336) rotate(-56.5)" font-size="15">N 30° E</text>
</g>

<!-- ===== TITLE ===== -->
<text x="460" y="1499" font-size="47" font-weight="bold" stroke="#111" stroke-width="1.4" textLength="442" lengthAdjust="spacingAndGlyphs">T.H 4 FLOOR PLAN</text>
<line x1="445" y1="1517" x2="928" y2="1517" stroke="#111" stroke-width="1.2"/>
<text x="473" y="1537" font-size="17" font-weight="bold" textLength="63" lengthAdjust="spacingAndGlyphs">1 : 100</text>
</svg>
</body></html>
